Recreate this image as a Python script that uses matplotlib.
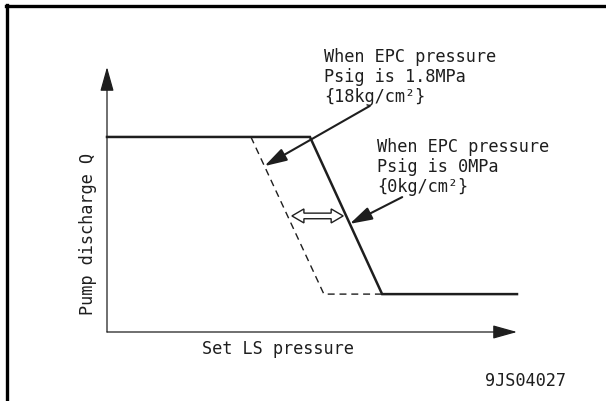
#!/usr/bin/env python3
# Pump discharge vs set LS pressure, schematic (9JS04027)
import matplotlib
matplotlib.use('Agg')
import matplotlib.pyplot as plt
from matplotlib.lines import Line2D
from matplotlib.patches import Polygon

# chart data (arbitrary units, origin at the axes corner)
Q_MAX = 73.6
Q_MIN = 14.3
ls_psig0 = [0, 49.5, 67.1, 100]       # solid: EPC pressure 0 MPa
q_psig0 = [Q_MAX, Q_MAX, Q_MIN, Q_MIN]
ls_psig18 = [35.1, 52.9, 67.1]        # dashed: EPC pressure 1.8 MPa
q_psig18 = [Q_MAX, Q_MIN, Q_MIN]

label_18 = 'When EPC pressure\nPsig is 1.8MPa\n{18kg/cm²}'
label_0 = 'When EPC pressure\nPsig is 0MPa\n{0kg/cm²}'
x_label = 'Set LS pressure'
y_label = 'Pump discharge Q'
fig_code = '9JS04027'

W, H = 606, 401
FONT = 'DejaVu Sans Mono'
FS = 12.2
INK = '#1e1e1e'

fig = plt.figure(figsize=(W / 100, H / 100), dpi=100)
# origin at pixel (107, 332), x tip at 517, y tip at 67
ax = fig.add_axes([107 / W, (H - 332) / H, (517 - 107) / W, (332 - 67) / H])
ax.set_xlim(0, 100)
ax.set_ylim(0, 100)
ax.axis('off')

# outer frame (left and top only)
fig.add_artist(Line2D([7 / W, 7 / W], [0, 1 - 5 / H], transform=fig.transFigure,
                      color='black', lw=2.4))
fig.add_artist(Line2D([6 / W, 1], [1 - 6 / H, 1 - 6 / H], transform=fig.transFigure,
                      color='black', lw=2.4))

# axes with arrow heads
axis_arrow = dict(arrowstyle='-|>,head_length=0.75,head_width=0.21', color=INK,
                  lw=0.9, shrinkA=0, shrinkB=0, mutation_scale=20)
ax.annotate('', xy=(100, 0), xytext=(0, 0), arrowprops=axis_arrow, annotation_clip=False)
ax.annotate('', xy=(0, 100), xytext=(0, 0), arrowprops=axis_arrow, annotation_clip=False)

# curves
ax.plot(ls_psig0, q_psig0, color=INK, lw=1.8, solid_joinstyle='miter', clip_on=False)
ax.plot(ls_psig18, q_psig18, color=INK, lw=1.0, ls=(0, (5, 3.5)), clip_on=False)

# callouts
call = dict(arrowstyle='-|>,head_length=0.68,head_width=0.2', color=INK, lw=1.5,
            shrinkA=0, shrinkB=0, mutation_scale=20)
ax.annotate('', xy=(38.4, 62.6), xytext=(64.1, 85.3), arrowprops=call)
ax.annotate('', xy=(59.2, 40.8), xytext=(72.0, 50.9), arrowprops=call)
ax.text(52.9, 96.2, label_18, ha='left', va='center', family=FONT, fontsize=FS,
        color=INK, linespacing=1.15)
ax.text(65.9, 62.3, label_0, ha='left', va='center', family=FONT, fontsize=FS,
        color=INK, linespacing=1.15)

# hollow double arrow showing the shift
x0, x1, yc = 45.1, 57.6, 43.8
px, py = 100 / 410, 100 / 265
hl, hw, sw = 12 * px, 7 * py, 2.8 * py
ax.add_patch(Polygon([(x0, yc), (x0 + hl, yc + hw), (x0 + hl, yc + sw), (x1 - hl, yc + sw),
                      (x1 - hl, yc + hw), (x1, yc), (x1 - hl, yc - hw), (x1 - hl, yc - sw),
                      (x0 + hl, yc - sw), (x0 + hl, yc - hw)],
                     closed=True, fc='white', ec=INK, lw=1.0))

# axis labels and figure code
ax.text(41.7, -6.4, x_label, ha='center', va='center', family=FONT, fontsize=FS, color=INK)
ax.text(-4.6, 37, y_label, ha='center', va='center', rotation=90, family=FONT,
        fontsize=FS, color=INK)
ax.text(102, -18.5, fig_code, ha='center', va='center', family=FONT, fontsize=FS, color=INK)

fig.savefig('out.png', dpi=100)
